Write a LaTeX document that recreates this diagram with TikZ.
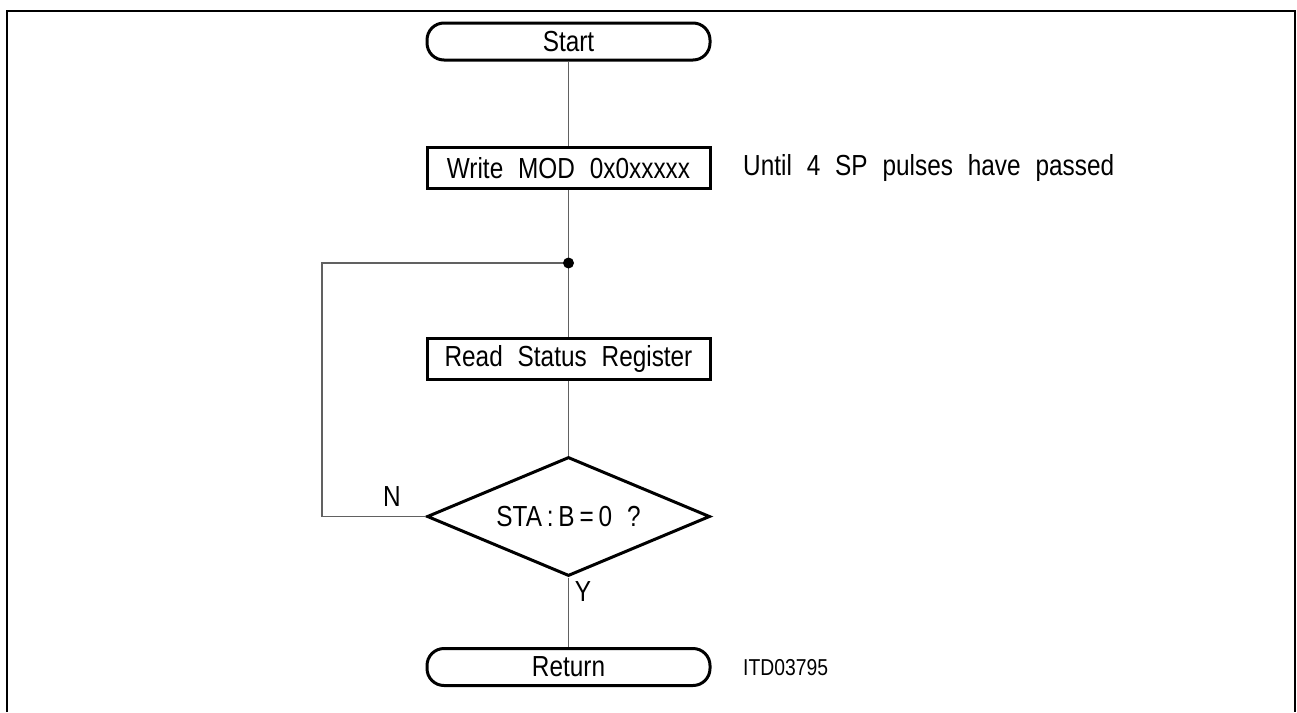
\documentclass[tikz,border=0pt]{standalone}
\usepackage{fontspec}
\setmainfont{Liberation Sans}[FakeStretch=0.84, WordSpace=2.2]
\usetikzlibrary{shapes.geometric}
\begin{document}
\begin{tikzpicture}[x=1pt,y=-1pt,
  box/.style={draw, line width=3pt, minimum width=283pt, inner sep=0pt, font=\fontsize{29}{32}\selectfont},
  term/.style={box, rounded corners=17pt, minimum height=37pt},
  proc/.style={box, minimum height=41pt},
  dec/.style={diamond, draw, line width=3pt, aspect=2.38, minimum width=283pt, minimum height=119pt, inner sep=0pt, font=\fontsize{29}{32}\selectfont},
  conn/.style={draw=black!62, line width=1.5pt},
  lbl/.style={font=\fontsize{29}{32}\selectfont, inner sep=0pt},
  small/.style={font=\fontsize{23}{26}\selectfont, inner sep=0pt}]
\useasboundingbox (0,0) rectangle (1297,712);
\draw[line width=2.6pt] (7,712) -- (7,11) -- (1295,11) -- (1295,712);

\node[term] (start) at (568.5,41.5) {Start};
\node[proc] (write) at (568.5,168) {Write MOD 0x0xxxxx};
\coordinate (j) at (568.5,263);
\coordinate (lc) at (322,263);
\node[proc] (read) at (568.5,358.5) {Read Status Register};
\node[dec] (dec) at (568.5,516.5) {STA\,:\,B\,=\,0 ?};
\node[term] (ret) at (568.5,667) {Return};

\node[lbl, anchor=west] (note) at (743,168) {Until 4 SP pulses have passed};
\node[lbl] (n) at (392,497) {N};
\node[lbl] (y) at (583,592) {Y};
\node[small, anchor=west] (itd) at (743,668) {ITD03795};

\draw[conn] (start) -- (write);
\draw[conn] (write) -- (read);
\draw[conn] (read) -- (dec);
\draw[conn] (dec) -- (ret);
\draw[conn] (dec.west) -| (lc) -- (j);
\fill (j) circle (5.5pt);
\end{tikzpicture}
\end{document}
